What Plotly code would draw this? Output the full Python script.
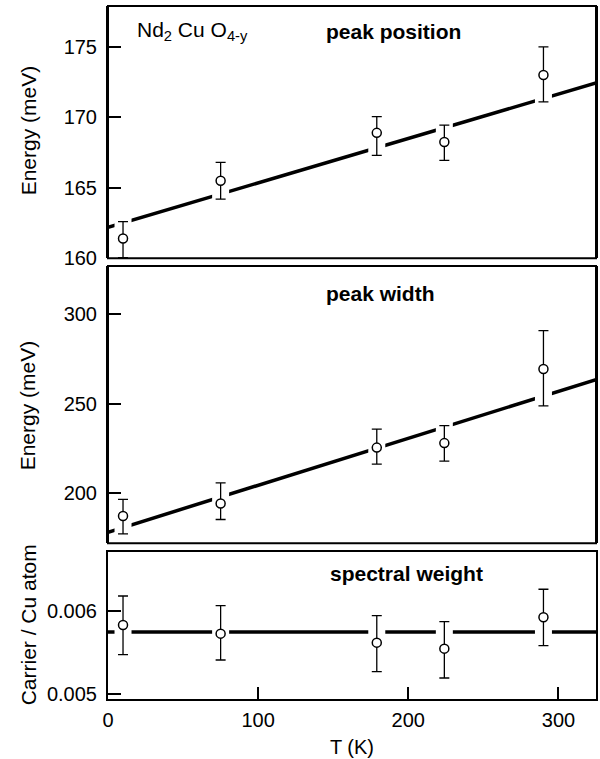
import plotly.graph_objects as go

# ---- data ----
T = [10, 75, 179, 224, 290]

pos_val = [161.4, 165.5, 168.9, 168.25, 173.0]
pos_up = [162.6, 166.8, 170.05, 169.45, 175.0]
pos_lo = [160.05, 164.2, 167.3, 166.95, 171.1]
pos_fit = [162.2, 0.0315]  # intercept, slope

wid_val = [187.3, 194.2, 225.5, 228.0, 269.4]
wid_up = [196.5, 205.8, 235.8, 237.8, 290.9]
wid_lo = [177.3, 185.3, 216.2, 217.9, 248.8]
wid_fit = [178.2, 0.2625]

sw_val = [0.005828, 0.005724, 0.005616, 0.005544, 0.00592]
sw_up = [0.006176, 0.00606, 0.00594, 0.005868, 0.006257]
sw_lo = [0.005472, 0.005408, 0.005268, 0.005192, 0.00558]
sw_fit = [0.005744, 0.0]

T_range = [0, 325]
T_ticks = [0, 100, 200, 300]
pos_ticks = [160, 165, 170, 175]
wid_ticks = [200, 250, 300]
sw_ticks = [0.005, 0.006]

FONT = "Liberation Sans, Arial, Helvetica, sans-serif"

fig = go.Figure()

panels = [
    (pos_val, pos_up, pos_lo, pos_fit, "y"),
    (wid_val, wid_up, wid_lo, wid_fit, "y2"),
    (sw_val, sw_up, sw_lo, sw_fit, "y3"),
]

for vals, up, lo, fit, ya in panels:
    fx = [T_range[0], T_range[1]]
    fy = [fit[0] + fit[1] * t for t in fx]
    fig.add_trace(go.Scatter(x=fx, y=fy, mode="lines", xaxis="x", yaxis=ya,
                             line=dict(color="black", width=3.5),
                             showlegend=False, hoverinfo="skip"))
    # white gaps in the fit line around each data point
    gy = [fit[0] + fit[1] * t for t in T]
    fig.add_trace(go.Scatter(x=T, y=gy, mode="markers", xaxis="x", yaxis=ya,
                             marker=dict(symbol="square", size=17, color="white",
                                         line=dict(width=0)),
                             showlegend=False, hoverinfo="skip"))
    fig.add_trace(go.Scatter(
        x=T, y=vals, mode="markers", xaxis="x", yaxis=ya,
        marker=dict(symbol="circle", size=9, color="white",
                    line=dict(color="black", width=1.5)),
        error_y=dict(type="data", symmetric=False,
                     array=[u - v for u, v in zip(up, vals)],
                     arrayminus=[v - l for v, l in zip(vals, lo)],
                     color="black", thickness=1.3, width=5),
        showlegend=False))

PLOT_TOP, PLOT_BOT, PLOT_L, PLOT_R = 6, 699, 108, 598
H = PLOT_BOT - PLOT_TOP
W = PLOT_R - PLOT_L


def py(p):
    return (PLOT_BOT - p) / H


def px(p):
    return (p - PLOT_L) / W


axis_common = dict(showline=True, linecolor="black", linewidth=2, mirror=True,
                   showgrid=False, zeroline=False,
                   tickfont=dict(family=FONT, size=20, color="black"))

yt = dict(ticks="inside", ticklen=13, tickwidth=1.5, tickcolor="black",
          ticklabelstandoff=5, anchor="x")

fig.update_layout(
    width=600, height=759,
    margin=dict(l=PLOT_L, r=600 - PLOT_R, t=PLOT_TOP, b=759 - PLOT_BOT),
    paper_bgcolor="white", plot_bgcolor="white",
    font=dict(family=FONT, color="black"),
    xaxis=dict(range=T_range, anchor="y3", tickvals=T_ticks,
               ticks="inside", ticklen=12, tickwidth=1.5, tickcolor="black",
               ticklabelstandoff=2,
               title=dict(text="T (K)", font=dict(family=FONT, size=20), standoff=10),
               **axis_common),
    yaxis=dict(domain=[py(258.3), 1], range=[160, 177.9], tickvals=pos_ticks,
               **yt, **axis_common),
    yaxis2=dict(domain=[py(543.3), py(266)], range=[172, 327], tickvals=wid_ticks,
                **yt, **axis_common),
    yaxis3=dict(domain=[0, py(552.3)], range=[0.00494, 0.0067], tickvals=sw_ticks,
                tickformat=".3f", **yt, **axis_common),
)

# frames for upper panels
for ylo, yhi in [(py(258.3), 1), (py(543.3), py(266))]:
    fig.add_shape(type="rect", xref="paper", yref="paper", x0=0, x1=1, y0=ylo, y1=yhi,
                  line=dict(color="black", width=2), layer="above")

ann = [
    ("Nd<sub>2</sub> Cu O<sub>4-y</sub>", px(135), py(31), 21),
    ("<b>peak position</b>", px(325), py(32), 21),
    ("<b>peak width</b>", px(325), py(293), 21),
    ("<b>spectral weight</b>", px(329), py(573), 21),
]
for txt, x, y, s in ann:
    fig.add_annotation(text=txt, x=x, y=y, xref="paper", yref="paper",
                       xanchor="left", yanchor="middle", showarrow=False,
                       font=dict(family=FONT, size=s, color="black"))

for txt, ycen in [("Energy (meV)", 130), ("Energy (meV)", 405), ("Carrier / Cu atom", 625)]:
    fig.add_annotation(text=txt, x=px(28), y=py(ycen), xref="paper", yref="paper",
                       xanchor="center", yanchor="middle", textangle=-90,
                       showarrow=False, font=dict(family=FONT, size=21, color="black"))

fig.write_html("out.html", config={"displayModeBar": False},
               post_script="document.body.style.margin='0';document.body.style.overflow='hidden';")
